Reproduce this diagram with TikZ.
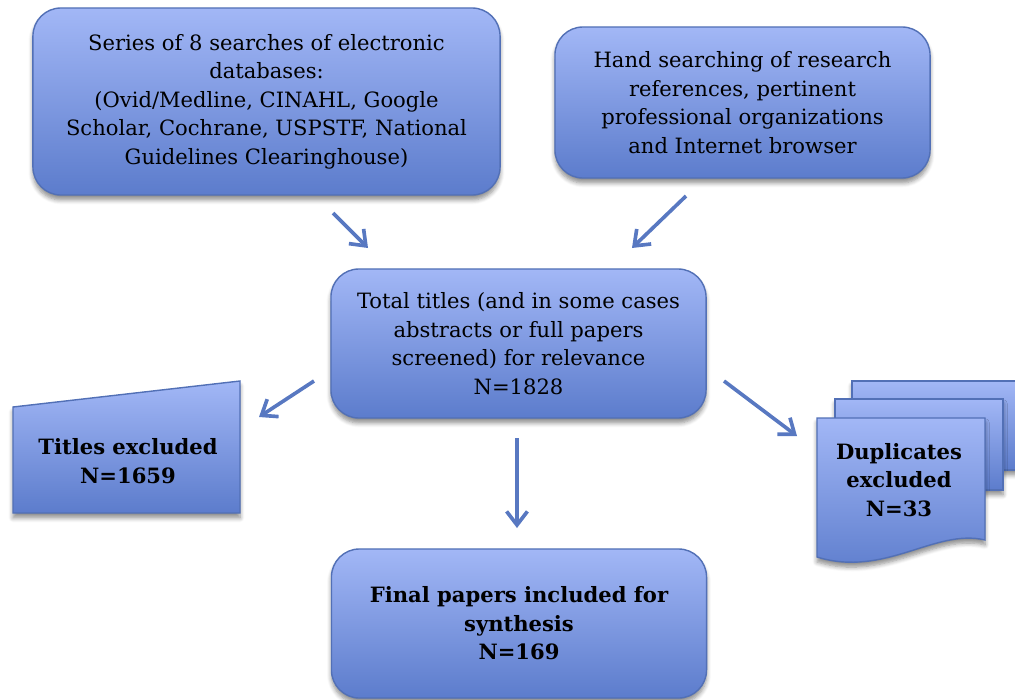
\documentclass[tikz,border=0pt]{standalone}
\usepackage{fontspec}
\setmainfont{DejaVu Serif}
\usepackage{tikz}
\usetikzlibrary{arrows.meta,shadows.blur}

\definecolor{boxtop}{RGB}{162,183,246}
\definecolor{boxbot}{RGB}{92,124,204}
\definecolor{boxline}{RGB}{82,112,182}
\definecolor{arrowc}{RGB}{88,120,193}

\tikzset{
  fill box/.style={top color=boxtop, bottom color=boxbot, draw=boxline, line width=1pt,
    blur shadow={shadow xshift=0pt, shadow yshift=-3.5pt, shadow blur steps=6, shadow opacity=45}},
  roundbox/.style={fill box, rounded corners=0.7cm, inner sep=0pt, align=center},
  label text/.style={inner sep=0pt, align=center},
  arr/.style={arrowc, line width=2.6pt, -{Straight Barb[length=3.4mm,width=5.2mm]}},
}

\begin{document}
\begin{tikzpicture}[x=0.025cm, y=-0.025cm]
\fontsize{15}{20.3}\selectfont
\useasboundingbox (0,0) rectangle (1015,699);

% boxes
\node [roundbox, minimum width=11.675cm, minimum height=4.675cm] (db) at (266.5,101.5)
  {Series of 8 searches of electronic\\databases:\\(Ovid/Medline, CINAHL, Google\\Scholar, Cochrane, USPSTF, National\\Guidelines Clearinghouse)};
\node [roundbox, minimum width=9.375cm, minimum height=3.775cm] (hand) at (742.5,102.5)
  {Hand searching of research\\references, pertinent\\professional organizations\\and Internet browser};
\node [roundbox, minimum width=9.375cm, minimum height=3.725cm] (total) at (518.5,343.5)
  {Total titles (and in some cases\\abstracts or full papers\\screened) for relevance\\N=1828};
\node [roundbox, minimum width=9.375cm, minimum height=3.725cm] (final) at (519,623.5)
  {\bfseries Final papers included for\\\bfseries synthesis\\\bfseries N=169};

% manual input
\draw [fill box] (13,407) -- (240,381) -- (240,513) -- (13,513) -- cycle;
\node [label text, font=\bfseries] (titles) at (128,461) {Titles excluded\\N=1659};

% multidocument
\draw [fill box] (852,381) -- (1040,381) -- (1040,470) -- (852,470) -- cycle;
\draw [fill box] (835,399) -- (1003,399) -- (1003,490) -- (835,490) -- cycle;
\draw [fill box] (817,418) -- (985,418) -- (985,540)
  .. controls (935,528) and (885,578) .. (817,557) -- cycle;
\node [label text, font=\bfseries] (dup) at (899,480) {Duplicates\\excluded\\N=33};

% arrows
\coordinate (a1) at (333,213);  \coordinate (b1) at (368,248);
\coordinate (a2) at (686,196);  \coordinate (b2) at (632,248);
\coordinate (a3) at (314,381);  \coordinate (b3) at (259,417);
\coordinate (a4) at (724,381);  \coordinate (b4) at (797,436);
\coordinate (a5) at (517,438);  \coordinate (b5) at (517,528);
\draw [arr] (a1) -- (b1);
\draw [arr] (a2) -- (b2);
\draw [arr] (a3) -- (b3);
\draw [arr] (a4) -- (b4);
\draw [arr] (a5) -- (b5);
\end{tikzpicture}
\end{document}
